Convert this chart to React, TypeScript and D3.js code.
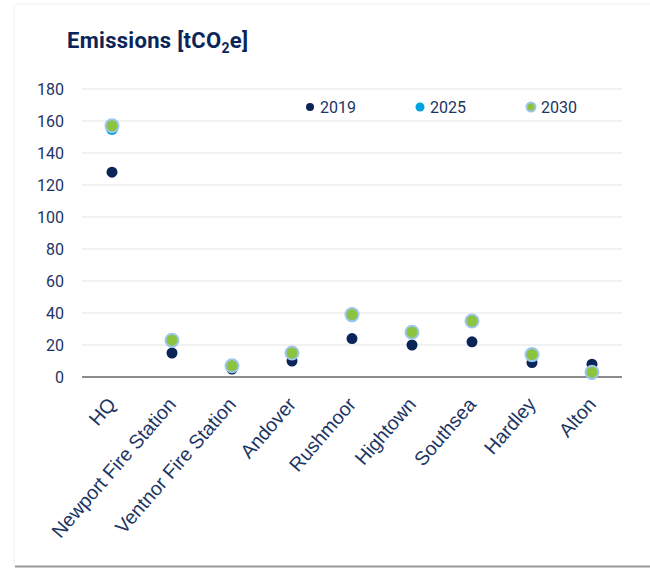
import React from "react";
import * as d3 from "d3";

const categories = [
  "HQ",
  "Newport Fire Station",
  "Ventnor Fire Station",
  "Andover",
  "Rushmoor",
  "Hightown",
  "Southsea",
  "Hardley",
  "Alton",
];
const values2019 = [128, 15, 5, 10, 24, 20, 22, 9, 8];
const values2025 = [155, 22, 7, 15, 38, 28, 35, 13, 2];
const values2030 = [157, 23, 7, 15, 39, 28, 35, 14, 3];
const yTicks = [0, 20, 40, 60, 80, 100, 120, 140, 160, 180];
const seriesNames = ["2019", "2025", "2030"];

const W = 650;
const H = 569;
const NAVY = "#0b2559";
const TEXT = "#1c3563";
const C2025 = "#00a3e0";
const C2030 = "#8cc43f";
const C2030_STROKE = "#9fc5ea";

export default function App() {
  const x = d3.scaleBand<string>().domain(categories).range([82, 622]);
  const y = d3.scaleLinear().domain([0, 180]).range([377, 89]);
  const cx = (c: string) => (x(c) as number) + x.bandwidth() / 2;

  const series = [
    { name: seriesNames[0], values: values2019, fill: NAVY, stroke: "none", sw: 0, r: 5.5 },
    { name: seriesNames[1], values: values2025, fill: C2025, stroke: "none", sw: 0, r: 6 },
    { name: seriesNames[2], values: values2030, fill: C2030, stroke: C2030_STROKE, sw: 2, r: 6.5 },
  ];
  const legendX = [310, 420, 531];

  return (
    <svg
      width={W}
      height={H}
      style={{ position: "absolute", left: 0, top: 0, background: "#fff" }}
      fontFamily="Roboto, sans-serif"
    >
      <defs>
        <filter id="sh" x="-5%" y="-5%" width="110%" height="110%">
          <feDropShadow dx="0" dy="0" stdDeviation="1.5" floodColor="#000" floodOpacity="0.12" />
        </filter>
      </defs>
      <rect x={15} y={5} width={660} height={561} fill="#fff" filter="url(#sh)" />
      <line x1={15} x2={W} y1={566.5} y2={566.5} stroke="#9a9a9a" strokeWidth={2} />

      <text x={67} y={48} fontSize={22} fontWeight={700} fill={NAVY} letterSpacing={0.3}>
        Emissions [tCO
        <tspan fontSize={14} dy={5}>2</tspan>
        <tspan dy={-5}>e]</tspan>
      </text>

      {yTicks.map((t) => (
        <g key={t}>
          {t !== 0 && (
            <line x1={82} x2={622} y1={y(t)} y2={y(t)} stroke="#ececec" strokeWidth={1.5} />
          )}
          <text x={64} y={y(t)} dy="0.36em" textAnchor="end" fontSize={16} fill={TEXT}>
            {t}
          </text>
        </g>
      ))}
      <line x1={82} x2={622} y1={y(0)} y2={y(0)} stroke="#8c8c8c" strokeWidth={2} />

      {categories.map((c) => (
        <text
          key={c}
          transform={`translate(${cx(c) + 5},${405}) rotate(-49)`}
          textAnchor="end"
          fontSize={19.5}
          fontFamily="'Liberation Sans', Arial, sans-serif"
          fill={TEXT}
        >
          {c}
        </text>
      ))}

      {series.map((s) => (
        <g key={s.name}>
          {categories.map((c, i) => (
            <circle
              key={c}
              cx={cx(c)}
              cy={y(s.values[i])}
              r={s.r}
              fill={s.fill}
              stroke={s.stroke}
              strokeWidth={s.sw}
            />
          ))}
        </g>
      ))}

      {series.map((s, i) => (
        <g key={"lg" + s.name}>
          <circle
            cx={legendX[i]}
            cy={107}
            r={i === 0 ? 4 : 4.5}
            fill={s.fill}
            stroke={s.stroke}
            strokeWidth={s.sw}
          />
          <text x={legendX[i] + 10} y={107} dy="0.36em" fontSize={16} fill={TEXT}>
            {s.name}
          </text>
        </g>
      ))}
    </svg>
  );
}
